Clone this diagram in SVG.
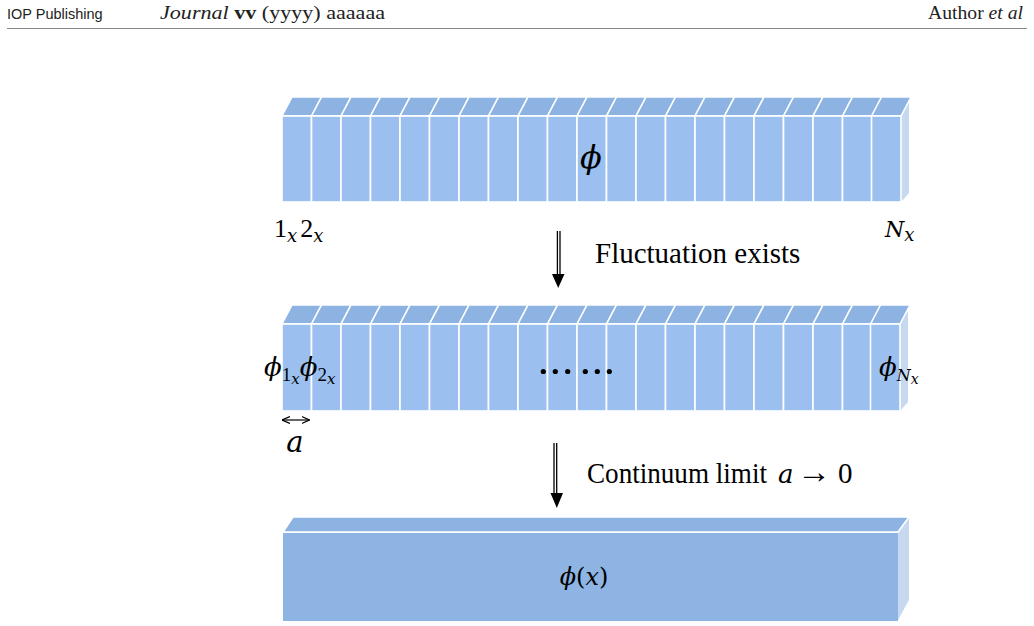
<svg xmlns="http://www.w3.org/2000/svg" xmlns:xlink="http://www.w3.org/1999/xlink" width="1034" height="626" viewBox="0 0 1034 626">
  <style>
    .front { fill: #9bc0f0; stroke: #ffffff; stroke-width: 1.6; }
    .top { fill: #8db3e2; stroke: #ffffff; stroke-width: 1.6; }
    .side { fill: #c6d9f1; }
    .slab { fill: #8eb4e3; }
    .hdr { font-family: "Liberation Serif", serif; font-size: 19px; fill: #222; }
    .sans { font-family: "Liberation Sans", sans-serif; font-size: 14.5px; fill: #222; }
    .math { font-family: "DejaVu Serif", "Liberation Serif", serif; font-style: italic; fill: #000; }
    .rm { font-family: "Liberation Serif", serif; font-style: normal; fill: #000; }
    .lbl { font-family: "Liberation Serif", serif; font-size: 29px; fill: #000; }
    .shaft { stroke: #000; stroke-width: 1.3; fill: none; }
  </style>
  <defs>
    <!-- one lattice cell: front face plus slanted top face -->
    <g id="cell1">
      <polygon class="top" points="0,0 10,-19 39.5,-19 29.5,0"/>
      <rect class="front" x="0" y="0" width="29.5" height="86"/>
    </g>
    <g id="cell2">
      <polygon class="top" points="0,0 10,-19 39.5,-19 29.5,0"/>
      <rect class="front" x="0" y="0" width="29.5" height="87"/>
    </g>
    <marker id="dblA" viewBox="0 0 8 8" refX="8" refY="4" markerWidth="8" markerHeight="8" markerUnits="userSpaceOnUse" orient="auto-start-reverse">
      <path d="M0,0.5 L8,4 L0,7.5" fill="none" stroke="#000" stroke-width="1.2"/>
    </marker>
  </defs>

  <!-- page header -->
  <g id="header">
    <text class="sans" x="7" y="19">IOP Publishing</text>
    <text class="hdr" x="160" y="19" textLength="225" lengthAdjust="spacingAndGlyphs"><tspan font-style="italic">Journal</tspan> <tspan font-weight="bold">vv</tspan> (yyyy) aaaaaa</text>
    <text class="hdr" x="928" y="19" textLength="95" lengthAdjust="spacingAndGlyphs">Author <tspan font-style="italic">et al</tspan></text>
    <line x1="7" y1="28.5" x2="1027" y2="28.5" stroke="#888" stroke-width="1"/>
  </g>

  <!-- lattice of sites -->
  <g id="lattice">
    <polygon class="side" points="901,116 909,97 909,193 901,202"/>
    <use xlink:href="#cell1" x="282" y="116"/>
    <use xlink:href="#cell1" x="311.5" y="116"/>
    <use xlink:href="#cell1" x="341" y="116"/>
    <use xlink:href="#cell1" x="370.5" y="116"/>
    <use xlink:href="#cell1" x="400" y="116"/>
    <use xlink:href="#cell1" x="429.5" y="116"/>
    <use xlink:href="#cell1" x="459" y="116"/>
    <use xlink:href="#cell1" x="488.5" y="116"/>
    <use xlink:href="#cell1" x="518" y="116"/>
    <use xlink:href="#cell1" x="547.5" y="116"/>
    <use xlink:href="#cell1" x="577" y="116"/>
    <use xlink:href="#cell1" x="606.5" y="116"/>
    <use xlink:href="#cell1" x="636" y="116"/>
    <use xlink:href="#cell1" x="665.5" y="116"/>
    <use xlink:href="#cell1" x="695" y="116"/>
    <use xlink:href="#cell1" x="724.5" y="116"/>
    <use xlink:href="#cell1" x="754" y="116"/>
    <use xlink:href="#cell1" x="783.5" y="116"/>
    <use xlink:href="#cell1" x="813" y="116"/>
    <use xlink:href="#cell1" x="842.5" y="116"/>
    <use xlink:href="#cell1" x="871.5" y="116"/>
    <text class="math" x="591" y="168" font-size="32" text-anchor="middle">ϕ</text>
    <text class="rm" x="274" y="237" font-size="26">1<tspan class="math" font-size="18" dy="5">x</tspan><tspan dx="3" dy="-5">2</tspan><tspan class="math" font-size="18" dy="5">x</tspan></text>
    <text class="math" x="885" y="237" font-size="22">N<tspan font-size="18" dy="4">x</tspan></text>
  </g>

  <!-- fluctuating field on the lattice -->
  <g id="fluctuating">
    <polygon class="side" points="900,324 908,305 908,402 900,411"/>
    <use xlink:href="#cell2" x="282" y="324"/>
    <use xlink:href="#cell2" x="311.5" y="324"/>
    <use xlink:href="#cell2" x="341" y="324"/>
    <use xlink:href="#cell2" x="370.5" y="324"/>
    <use xlink:href="#cell2" x="400" y="324"/>
    <use xlink:href="#cell2" x="429.5" y="324"/>
    <use xlink:href="#cell2" x="459" y="324"/>
    <use xlink:href="#cell2" x="488.5" y="324"/>
    <use xlink:href="#cell2" x="518" y="324"/>
    <use xlink:href="#cell2" x="547.5" y="324"/>
    <use xlink:href="#cell2" x="577" y="324"/>
    <use xlink:href="#cell2" x="606.5" y="324"/>
    <use xlink:href="#cell2" x="636" y="324"/>
    <use xlink:href="#cell2" x="665.5" y="324"/>
    <use xlink:href="#cell2" x="695" y="324"/>
    <use xlink:href="#cell2" x="724.5" y="324"/>
    <use xlink:href="#cell2" x="754" y="324"/>
    <use xlink:href="#cell2" x="783.5" y="324"/>
    <use xlink:href="#cell2" x="813" y="324"/>
    <use xlink:href="#cell2" x="842.5" y="324"/>
    <use xlink:href="#cell2" x="870.5" y="324"/>
    <text class="math" x="264" y="376" font-size="26">ϕ<tspan class="rm" font-size="19" dy="5">1</tspan><tspan font-size="15" dy="3">x</tspan><tspan dy="-8">ϕ</tspan><tspan class="rm" font-size="19" dy="5">2</tspan><tspan font-size="15" dy="3">x</tspan></text>
    <text class="math" x="879" y="376" font-size="26">ϕ<tspan font-size="16" dy="5">N</tspan><tspan font-size="14" dy="3">x</tspan></text>
    <g fill="#000">
      <circle cx="543.3" cy="371.5" r="2.6"/>
      <circle cx="555.3" cy="371.5" r="2.6"/>
      <circle cx="567.7" cy="371.5" r="2.6"/>
      <circle cx="585.3" cy="371.5" r="2.6"/>
      <circle cx="597.3" cy="371.5" r="2.6"/>
      <circle cx="609.3" cy="371.5" r="2.6"/>
    </g>
    <line x1="282" y1="420" x2="309.5" y2="420" stroke="#000" stroke-width="1.2" marker-start="url(#dblA)" marker-end="url(#dblA)"/>
    <text class="math" x="295" y="452" font-size="29" text-anchor="middle">a</text>
  </g>

  <!-- continuum field -->
  <g id="continuum">
    <polygon class="side" points="898,532 909,517 909,600 898,620"/>
    <polygon class="top" points="283,532 293,517 909,517 898,532"/>
    <rect class="slab" x="283" y="533" width="615" height="88"/>
    <text class="math" x="584" y="585" font-size="24" text-anchor="middle">ϕ<tspan font-style="normal">(</tspan>x<tspan font-style="normal">)</tspan></text>
  </g>

  <!-- transitions between the three pictures -->
  <g id="connectors">
    <line class="shaft" x1="557.4" y1="231" x2="557.4" y2="275"/>
    <line class="shaft" x1="560" y1="231" x2="560" y2="275"/>
    <path d="M552,274 L564.5,274 L558.2,288 Z" fill="#000"/>
    <line class="shaft" x1="554" y1="443" x2="554" y2="494"/>
    <line class="shaft" x1="556.7" y1="443" x2="556.7" y2="494"/>
    <path d="M550.5,493 L563,493 L556.8,508 Z" fill="#000"/>
    <text class="lbl" x="595" y="263">Fluctuation exists</text>
    <text class="lbl" x="587" y="483"><tspan textLength="180" lengthAdjust="spacingAndGlyphs">Continuum limit</tspan><tspan class="math" x="778" font-size="26">a</tspan><tspan x="797" font-size="34">→</tspan><tspan x="838">0</tspan></text>
  </g>
</svg>
